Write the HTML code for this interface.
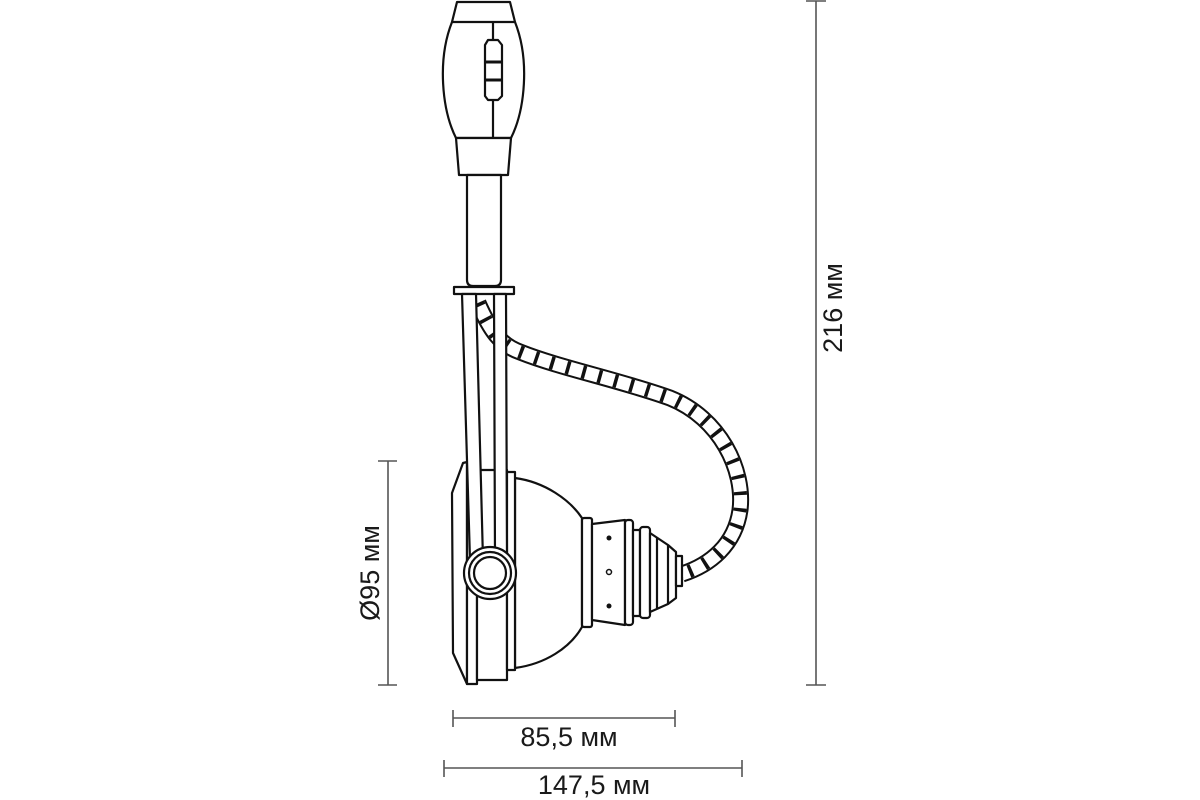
<!DOCTYPE html>
<html><head><meta charset="utf-8"><style>
html,body{margin:0;padding:0;background:#fff;width:1200px;height:800px;overflow:hidden}
svg{display:block}
text{font-family:"Liberation Sans",sans-serif;fill:#1a1a1a;font-size:27px}
</style></head><body>
<svg width="1200" height="800" viewBox="0 0 1200 800" xmlns="http://www.w3.org/2000/svg">
<g fill="none" stroke="#555" stroke-width="1.6">
<line x1="816" y1="1" x2="816" y2="685"/><line x1="806" y1="1" x2="826" y2="1"/><line x1="806" y1="685" x2="826" y2="685"/>
<line x1="388" y1="461" x2="388" y2="685"/><line x1="378" y1="461" x2="397" y2="461"/><line x1="378" y1="685" x2="397" y2="685"/>
<line x1="453" y1="718" x2="675" y2="718"/><line x1="453" y1="710" x2="453" y2="727"/><line x1="675" y1="710" x2="675" y2="727"/>
<line x1="444" y1="768" x2="742" y2="768"/><line x1="444" y1="760" x2="444" y2="777"/><line x1="742" y1="760" x2="742" y2="777"/>
</g>
<text x="569" y="746" text-anchor="middle">85,5 мм</text>
<text x="594" y="794" text-anchor="middle">147,5 мм</text>
<text transform="translate(842,308) rotate(-90)" text-anchor="middle">216 мм</text>
<text transform="translate(379,573) rotate(-90)" text-anchor="middle">Ø95 мм</text>

<g fill="none" stroke-linecap="butt">
<path d="M478,303 C490,330 500,345 520,352 C560,368 620,380 670,398 C720,418 745,470 740,510 C735,545 710,565 682,574" stroke="#111" stroke-width="17"/>
<path d="M478,303 C490,330 500,345 520,352 C560,368 620,380 670,398 C720,418 745,470 740,510 C735,545 710,565 682,574" stroke="#fff" stroke-width="13"/>
<path d="M478,303 C490,330 500,345 520,352 C560,368 620,380 670,398 C720,418 745,470 740,510 C735,545 710,565 682,574" stroke="#111" stroke-width="13" stroke-dasharray="3.5 13"/>
</g>

<g fill="#fff" stroke="#111" stroke-width="2.2" stroke-linejoin="round">
<path d="M457,2 L510,2 L515,22 C530,60 525,110 511,138 L456,138 C442,110 437,60 452,22 Z"/>
<line x1="452" y1="22" x2="515" y2="22"/>
<line x1="493" y1="22" x2="493" y2="40"/><line x1="493" y1="100" x2="493" y2="138"/>
<path d="M488,40 L498,40 L502,45 L502,96 L498,100 L488,100 L485,96 L485,45 Z"/>
<line x1="485" y1="62" x2="502" y2="62" stroke-width="3"/><line x1="485" y1="80" x2="502" y2="80" stroke-width="3"/>
<path d="M456,138 L511,138 L508,175 L459,175 Z"/>
<path d="M467,175 L501,175 L501,280 Q501,286 495,286 L473,286 Q467,286 467,280 Z"/>
<rect x="454" y="287" width="60" height="7"/>
<path d="M515,478 C545,482 570,500 582,518 L582,627 C570,648 545,664 515,668 Z"/>
<path d="M463,463 L467,462 L467,684 L453,653 L452,493 Z"/>
<rect x="467" y="463" width="10" height="221"/>
<rect x="477" y="470" width="30" height="210"/>
<rect x="507" y="472" width="8" height="198"/>
<path d="M462,294 L476,294 L483,560 L470,560 Z"/>
<path d="M494,294 L506,294 L507,560 L495,560 Z"/>
<rect x="582" y="518" width="10" height="109" rx="2"/>
<path d="M592,524 L625,520 L625,625 L592,620 Z"/>
<rect x="625" y="520" width="8" height="105" rx="3"/>
<rect x="633" y="530" width="7" height="86"/>
<rect x="640" y="527" width="10" height="91" rx="3"/>
<path d="M650,533 L668,545 L676,552 L676,598 L668,604 L650,612 Z"/>
<line x1="657" y1="538" x2="657" y2="608"/><line x1="668" y1="545" x2="668" y2="604"/>
<rect x="676" y="556" width="6" height="30"/>
<circle cx="490" cy="573" r="26"/><circle cx="490" cy="573" r="21"/><circle cx="490" cy="573" r="16"/>
</g>
<circle cx="609" cy="538" r="2.5" fill="#111"/>
<circle cx="609" cy="572" r="2.5" fill="#fff" stroke="#111" stroke-width="1.5"/>
<circle cx="609" cy="606" r="2.5" fill="#111"/>
</svg>
</body></html>
